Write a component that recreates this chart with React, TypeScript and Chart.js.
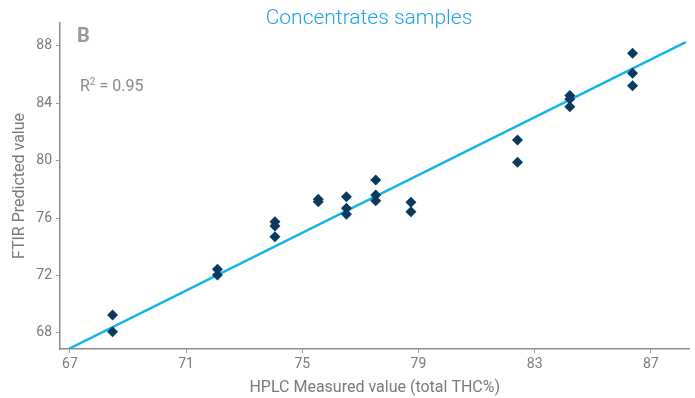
import React, { useEffect, useRef } from "react";
import { Chart, registerables } from "chart.js";
Chart.register(...registerables);

const measured = [68.47, 68.47, 72.08, 72.08, 74.06, 74.06, 74.06, 75.55, 75.55, 76.52, 76.52, 76.52, 77.53, 77.53, 77.53, 78.74, 78.74, 82.41, 82.41, 84.21, 84.21, 84.21, 86.37, 86.37, 86.37];
const predicted = [69.25, 68.09, 72.44, 72.04, 75.76, 75.46, 74.71, 77.32, 77.15, 77.5, 76.69, 76.27, 78.66, 77.62, 77.22, 77.11, 76.45, 81.45, 79.9, 84.54, 84.31, 83.77, 87.49, 86.1, 85.23];
const fitX = [66.95, 88.2];
const fitY = [66.88, 88.27];
const xTicks = [67, 71, 75, 79, 83, 87];
const yTicks = [68, 72, 76, 80, 84, 88];

const GRAY = "#7a7a7a";
const FONT = "Roboto, 'Noto Sans', sans-serif";

export default function App() {
  const ref = useRef<HTMLCanvasElement>(null);
  useEffect(() => {
    const textPlugin = {
      id: "texts",
      afterDraw(chart: any) {
        const ctx = chart.ctx;
        ctx.save();
        ctx.textBaseline = "middle";
        ctx.fillStyle = "#1da4e2";
        ctx.font = `300 21px ${FONT}`;
        ctx.textAlign = "center";
        ctx.fillText("Concentrates samples", 369, 19);
        ctx.textAlign = "left";
        ctx.fillStyle = "#9a9a9a";
        ctx.font = `bold 20px ${FONT}`;
        ctx.fillText("B", 77, 37);
        ctx.fillStyle = "#8a8a8a";
        ctx.font = `16px ${FONT}`;
        ctx.fillText("R", 80, 87);
        const w = ctx.measureText("R").width;
        ctx.font = `10px ${FONT}`;
        ctx.fillText("2", 80 + w, 82);
        const w2 = ctx.measureText("2").width;
        ctx.font = `16px ${FONT}`;
        ctx.fillText(" = 0.95", 80 + w + w2, 87);
        ctx.restore();
      },
    };
    const chart = new Chart(ref.current!, {
      type: "scatter",
      data: {
        datasets: [
          {
            type: "line",
            data: fitX.map((x, i) => ({ x, y: fitY[i] })),
            borderColor: "#14b4ea",
            borderWidth: 2.5,
            pointRadius: 0,
            fill: false,
            order: 2,
          } as any,
          {
            data: measured.map((x, i) => ({ x, y: predicted[i] })),
            pointStyle: "rectRot",
            pointRadius: 5.5,
            backgroundColor: "#0c3a5e",
            borderColor: "#0c3a5e",
            borderWidth: 0,
            order: 1,
          },
        ],
      },
      options: {
        responsive: false,
        animation: false,
        layout: { padding: { top: 23, right: 0, left: 0, bottom: 0 } },
        plugins: { legend: { display: false }, tooltip: { enabled: false }, title: { display: false } },
        scales: {
          x: {
            type: "linear",
            min: 66.66,
            max: 88.33,
            afterBuildTicks: (s: any) => { s.ticks = xTicks.map((v) => ({ value: v })); },
            afterFit: (s: any) => { s.height = 49; },
            grid: { display: true, drawOnChartArea: false, drawTicks: true, tickLength: 4, color: "#999" },
            border: { display: true, color: "#8c8c8c", width: 1.5 },
            ticks: { color: GRAY, font: { family: FONT, size: 14 }, padding: 3 },
            title: { display: true, text: "HPLC Measured value (total THC%)", color: GRAY, font: { family: FONT, size: 16 }, padding: { top: 0, bottom: 0 } },
          },
          y: {
            type: "linear",
            min: 66.885,
            max: 89.6,
            afterBuildTicks: (s: any) => { s.ticks = yTicks.map((v) => ({ value: v })); },
            afterFit: (s: any) => { s.width = 60; },
            grid: { display: true, drawOnChartArea: false, drawTicks: true, tickLength: 4, color: "#999" },
            border: { display: true, color: "#8c8c8c", width: 1.5 },
            ticks: { color: GRAY, font: { family: FONT, size: 14 }, padding: 4 },
            title: { display: true, text: "FTIR Predicted value", color: GRAY, font: { family: FONT, size: 16 }, padding: { top: 10, bottom: 0 } },
          },
        },
      },
      plugins: [textPlugin],
    } as any);
    return () => chart.destroy();
  }, []);
  return (
    <div style={{ position: "fixed", left: 0, top: 0, width: 695, height: 398, background: "#fff" }}>
      <canvas ref={ref} width={695} height={398} style={{ display: "block" }} />
    </div>
  );
}
